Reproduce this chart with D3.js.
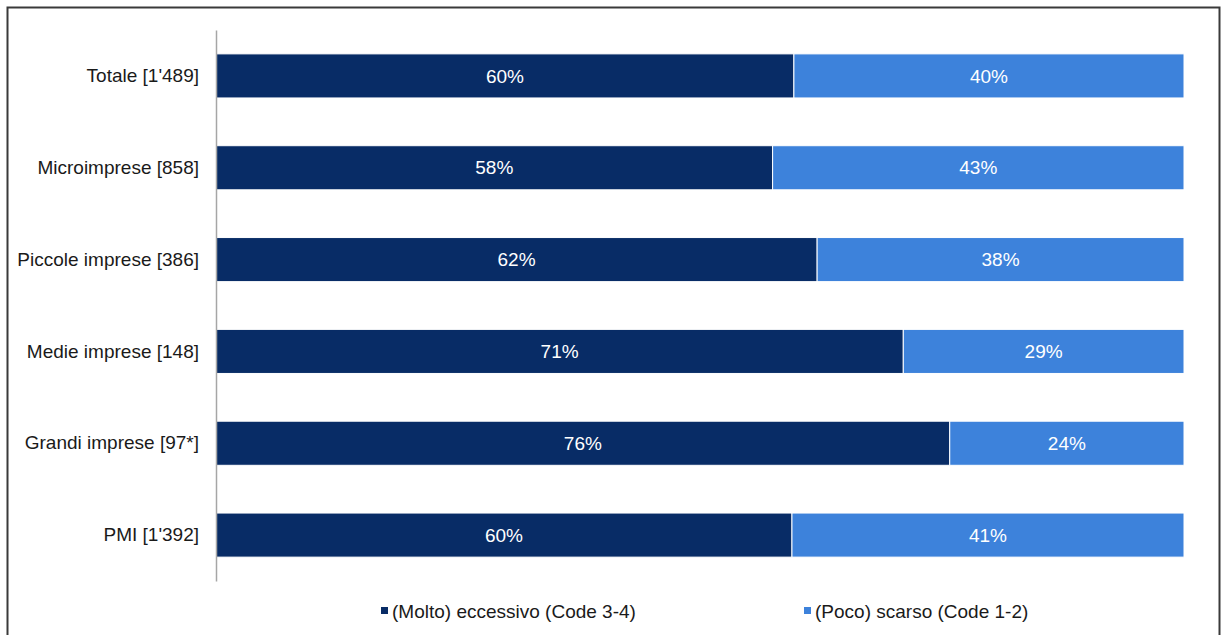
<!DOCTYPE html>
<html>
<head>
<meta charset="utf-8">
<script src="https://cdn.jsdelivr.net/npm/d3@7"></script>
<style>
  html, body { margin: 0; padding: 0; background: #fff; }
  svg { display: block; font-family: "Liberation Sans", Arial, sans-serif; }
</style>
</head>
<body>
<svg id="chart" width="1222" height="635"></svg>
<script>
// Categories (company size with sample size)
const categories = [
  "Totale [1'489]",
  "Microimprese [858]",
  "Piccole imprese [386]",
  "Medie imprese [148]",
  "Grandi imprese [97*]",
  "PMI [1'392]"
];
// Share of answers, percent
const eccessivo = [59.7, 57.5, 62.1, 71.0, 75.8, 59.5];
const scarso    = [40.3, 42.5, 37.9, 29.0, 24.2, 40.5];
const seriesNames = ["(Molto) eccessivo (Code 3-4)", "(Poco) scarso (Code 1-2)"];
const seriesColors = ["#082c66", "#3d82db"];

const svg = d3.select("#chart");
const FONT = 19;

// outer frame
svg.append("rect")
  .attr("x", 7.5).attr("y", 7.5)
  .attr("width", 1212).attr("height", 640)
  .attr("fill", "none").attr("stroke", "#3a3a3a").attr("stroke-width", 2);

const plot = { left: 216, right: 1184, top: 30, bottom: 581 };

const x = d3.scaleLinear().domain([0, 100]).range([plot.left, plot.right]);
const y = d3.scaleBand().domain(categories).range([plot.top, plot.bottom]).paddingInner(0.52).paddingOuter(0.26);

const rows = categories.map((c, i) => ({ cat: c, values: [eccessivo[i], scarso[i]] }));
const stack = d3.stack().keys([0, 1]).value((d, k) => d.values[k]);
const layers = stack(rows);

const fmt = d3.format(".0f");

const g = svg.append("g");
layers.forEach((layer, k) => {
  const lg = g.append("g");
  lg.selectAll("rect").data(layer).join("rect")
    .attr("x", d => x(d[0]))
    .attr("y", d => y(d.data.cat))
    .attr("width", d => x(d[1]) - x(d[0]))
    .attr("height", y.bandwidth())
    .attr("fill", seriesColors[k])
    .attr("stroke", "#ffffff")
    .attr("stroke-width", 1);
  lg.selectAll("text").data(layer).join("text")
    .attr("x", d => (x(d[0]) + x(d[1])) / 2)
    .attr("y", d => y(d.data.cat) + y.bandwidth() / 2)
    .attr("dy", "0.35em")
    .attr("text-anchor", "middle")
    .attr("fill", "#ffffff")
    .attr("font-size", FONT)
    .text(d => fmt(d.data.values[k]) + "%");
});

// category axis
const yAxis = d3.axisLeft(y).tickSize(0).tickPadding(17);
const ya = svg.append("g").attr("transform", `translate(${plot.left},0)`).call(yAxis);
ya.select(".domain").attr("stroke", "#a6a6a6").attr("stroke-width", 1.5);
ya.selectAll("text").attr("font-size", FONT).attr("fill", "#1a1a1a")
  .attr("font-family", "Liberation Sans, Arial, sans-serif");

// legend
const legendX = [381, 804];
const legend = svg.append("g");
seriesNames.forEach((name, k) => {
  legend.append("rect")
    .attr("x", legendX[k]).attr("y", 607)
    .attr("width", 7).attr("height", 7)
    .attr("fill", seriesColors[k]);
  legend.append("text")
    .attr("x", legendX[k] + 11).attr("y", 611)
    .attr("dy", "0.35em")
    .attr("font-size", FONT).attr("fill", "#1a1a1a")
    .text(name);
});
</script>
</body>
</html>
